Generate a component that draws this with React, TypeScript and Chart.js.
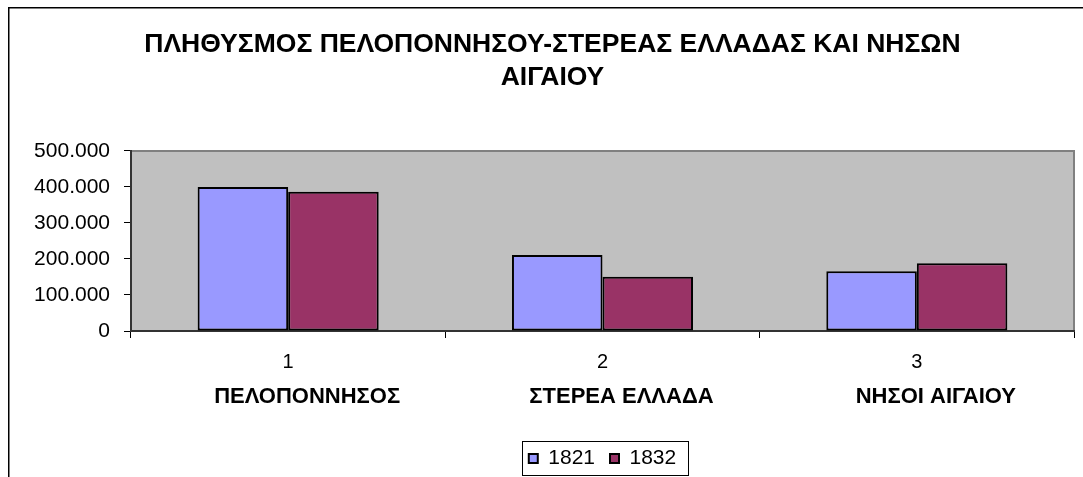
import React, { useEffect, useRef } from 'react';
import { Chart, registerables } from 'chart.js';

Chart.register(...registerables);

const titleLines = ['ΠΛΗΘΥΣΜΟΣ ΠΕΛΟΠΟΝΝΗΣΟΥ-ΣΤΕΡΕΑΣ ΕΛΛΑΔΑΣ ΚΑΙ ΝΗΣΩΝ', 'ΑΙΓΑΙΟΥ'];
const categoryNumbers = ['1', '2', '3'];
const categoryNames = ['ΠΕΛΟΠΟΝΝΗΣΟΣ', 'ΣΤΕΡΕΑ ΕΛΛΑΔΑ', 'ΝΗΣΟΙ ΑΙΓΑΙΟΥ'];
const seriesLabels = ['1821', '1832'];
const population1821 = [400000, 211000, 166000];
const population1832 = [387000, 151000, 188000];
const yMin = 0;
const yMax = 500000;
const yStep = 100000;

const FONT = '"Liberation Sans", Arial, Helvetica, sans-serif';

const fmt = (v: number | string) => String(v).replace(/\B(?=(\d{3})+(?!\d))/g, '.');

const framePlugin = {
  id: 'excelFrame',
  beforeDraw(chart: any) {
    const { ctx, width, height, chartArea: a } = chart;
    ctx.save();
    ctx.fillStyle = '#ffffff';
    ctx.fillRect(0, 0, width, height);
    ctx.strokeStyle = '#000000';
    ctx.lineWidth = 1.5;
    ctx.strokeRect(0.75, 0.75, width - 1.5, height - 1.5);
    ctx.fillStyle = '#C0C0C0';
    ctx.fillRect(a.left, a.top, a.right - a.left, a.bottom - a.top);
    ctx.strokeStyle = '#808080';
    ctx.lineWidth = 2;
    ctx.beginPath();
    ctx.moveTo(a.left, a.top);
    ctx.lineTo(a.right, a.top);
    ctx.lineTo(a.right, a.bottom);
    ctx.stroke();
    ctx.restore();
  },
  afterDraw(chart: any) {
    const lg = chart.legend;
    const hb = lg && lg.legendHitBoxes;
    if (!hb || !hb.length) return;
    const { ctx } = chart;
    const first = hb[0];
    const last = hb[hb.length - 1];
    const l = Math.round(first.left - 7) + 0.5;
    const r = Math.round(last.left + last.width + 12) + 0.5;
    const t = Math.round(first.top - 7) + 0.5;
    const b = Math.round(first.top + first.height + 6) + 0.5;
    ctx.save();
    ctx.strokeStyle = '#000000';
    ctx.lineWidth = 1;
    ctx.strokeRect(l, t, r - l, b - t);
    ctx.restore();
  },
};

export default function App() {
  const canvasRef = useRef<HTMLCanvasElement | null>(null);

  useEffect(() => {
    if (!canvasRef.current) return;
    const chart = new Chart(canvasRef.current, {
      type: 'bar',
      data: {
        labels: categoryNumbers,
        datasets: [
          {
            label: seriesLabels[0],
            data: population1821,
            backgroundColor: '#9999FF',
            borderColor: '#000000',
            borderWidth: 2,
            borderSkipped: false,
            categoryPercentage: 0.576,
            barPercentage: 1,
            xAxisID: 'x',
            yAxisID: 'y',
          },
          {
            label: seriesLabels[1],
            data: population1832,
            backgroundColor: '#993366',
            borderColor: '#000000',
            borderWidth: 2,
            borderSkipped: false,
            categoryPercentage: 0.576,
            barPercentage: 1,
            xAxisID: 'x',
            yAxisID: 'y',
          },
        ],
      },
      options: {
        responsive: false,
        animation: false,
        events: [],
        layout: { padding: { left: 0, right: 0, top: 0, bottom: 8 } },
        plugins: {
          title: {
            display: true,
            text: titleLines,
            color: '#000000',
            font: { family: FONT, size: 26.5, weight: 'bold', lineHeight: 1.245 },
            padding: { top: 21, bottom: 57 },
          },
          legend: {
            position: 'bottom',
            fullSize: false,
            labels: {
              color: '#000000',
              font: { family: FONT, size: 21 },
              boxWidth: 9,
              boxHeight: 9,
              padding: 15,
            },
          },
          tooltip: { enabled: false },
        },
        scales: {
          x: {
            type: 'category',
            labels: categoryNumbers,
            position: 'bottom',
            offset: true,
            grid: { offset: true, drawOnChartArea: false, drawTicks: true, tickLength: 7, color: '#000000', lineWidth: 1 },
            border: { display: true, color: '#333333', width: 2 },
            ticks: { color: '#000000', font: { family: FONT, size: 20 }, padding: 12, autoSkip: false, maxRotation: 0 },
            afterFit: (s: any) => { s.height = 45; },
          },
          x2: {
            type: 'category',
            labels: categoryNames,
            position: 'bottom',
            offset: true,
            grid: { display: false, drawTicks: false },
            border: { display: false },
            ticks: { color: '#000000', font: { family: FONT, size: 22, weight: 'bold' }, padding: 8, labelOffset: 19, autoSkip: false, maxRotation: 0 },
            afterFit: (s: any) => { s.height = 57; },
          },
          y: {
            type: 'linear',
            position: 'left',
            min: yMin,
            max: yMax,
            ticks: {
              stepSize: yStep,
              color: '#000000',
              font: { family: FONT, size: 21 },
              padding: 14,
              callback: (v: any) => fmt(v),
            },
            grid: { drawOnChartArea: false, drawTicks: true, tickLength: 7, color: '#000000', lineWidth: 1 },
            border: { display: true, color: '#333333', width: 2 },
            afterFit: (s: any) => { s.width = 123; },
          },
          yRight: {
            type: 'linear',
            position: 'right',
            display: true,
            ticks: { display: false },
            grid: { display: false, drawTicks: false },
            border: { display: false },
            afterFit: (s: any) => { s.width = 23; },
          },
        },
      } as any,
      plugins: [framePlugin],
    });
    return () => chart.destroy();
  }, []);

  return (
    <div style={{ position: 'fixed', left: 8, top: 7, width: 1075, height: 470, overflow: 'hidden' }}>
      <canvas ref={canvasRef} width={1089} height={480} style={{ display: 'block', width: 1089, height: 480 }} />
    </div>
  );
}
